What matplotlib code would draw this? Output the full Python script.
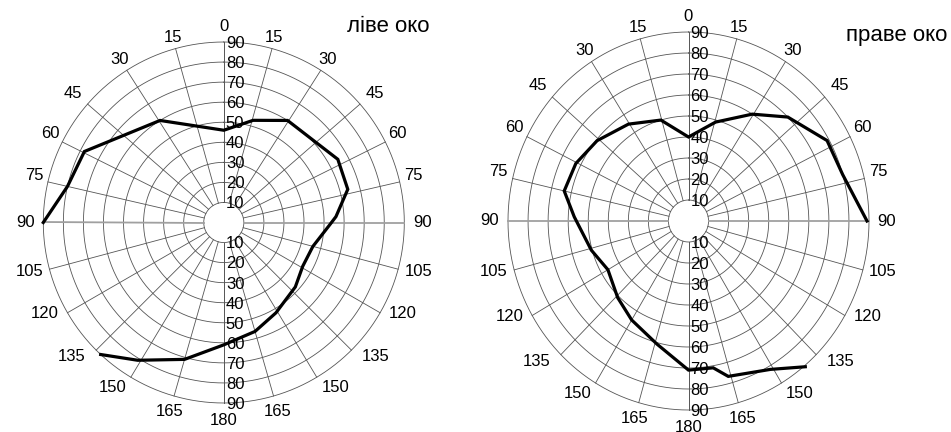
import numpy as np
import matplotlib
matplotlib.use("Agg")
import matplotlib.pyplot as plt

plt.rcParams['font.family'] = ['Liberation Sans', 'DejaVu Sans']

# field of view boundaries, angle clockwise from top (deg) and eccentricity (deg)
left_theta = [270, 283, 297, 328, 360, 16, 32, 61, 75, 87, 91, 105, 119, 132, 150, 164, 180, 196, 212, 223]
left_r = [90, 80, 78, 60, 46, 53, 60, 65, 64, 56, 53, 46, 45, 48, 52, 56.5, 61, 71, 81, 90]

right_theta = [90, 74, 61, 45, 32, 16, 0, -16, -33, -50, -64, -77, -88, -106, -120, -136, -149, -165, -180, -190, -195, -210, -220]
right_r = [89, 80, 79, 70, 60, 49, 40, 50, 55, 59.5, 62.5, 63.6, 57, 50.4, 46.4, 50.8, 55, 60.7, 71, 71, 76.6, 81.6, 90.6]

ring_values = [10, 20, 30, 40, 50, 60, 70, 80, 90]
meridian_labels = ['0', '15', '30', '45', '60', '75', '90', '105', '120', '135', '150', '165', '180']

# where the meridians and their labels sit on the printed form (one half, mirrored)
meridian_pos = [0, 15.5, 32.5, 49, 63.5, 77, 90, 105, 120, 135, 149, 164, 180]
label_pos = [0, 15.3, 32.5, 49.5, 62.8, 76, 90, 104, 117, 131.5, 146, 164, 180]
label_rad = [97.5, 95.5, 96.5, 99, 97.5, 97.5, 99, 100, 100, 101, 99.3, 97.8, 98.5]

GRID = '#555555'
FS = 12


def draw_chart(ax, theta, r):
    ax.set_theta_zero_location('N')
    ax.set_theta_direction(-1)
    ax.set_ylim(0, 90)
    ax.axis('off')
    ax.set_aspect('auto')

    t = np.linspace(0, 2 * np.pi, 361)
    for rv in ring_values:
        ax.plot(t, np.full_like(t, rv), color=GRID, lw=0.6, clip_on=False)

    for side in (1, -1):
        for m in meridian_pos:
            a = np.radians(side * m)
            if m == 90:
                ax.plot([a, a], [10, 90], color='#a0a0a0', lw=1.3, clip_on=False)
            else:
                ax.plot([a, a], [10, 90], color=GRID, lw=0.6, clip_on=False)
        for lab, lp, lr in zip(meridian_labels, label_pos, label_rad):
            if side == -1 and lp in (0, 180):
                continue
            ax.text(np.radians(side * lp), lr, lab, ha='center', va='center',
                    fontsize=FS, clip_on=False)

    for rv in ring_values:
        ax.annotate(str(rv), xy=(0, rv), xytext=(1.5, -1), textcoords='offset points',
                    ha='left', va='center', fontsize=FS, annotation_clip=False)
        ax.annotate(str(rv), xy=(np.pi, rv), xytext=(1.5, -1), textcoords='offset points',
                    ha='left', va='center', fontsize=FS, annotation_clip=False)

    ax.plot(np.radians(theta), r, color='black', lw=2.3, clip_on=False,
            solid_joinstyle='miter', zorder=5)


fig = plt.figure(figsize=(9.51, 4.32), dpi=100)

ax1 = fig.add_axes([43.3 / 951, 29 / 432, 361 / 951, 361 / 432], projection='polar')
draw_chart(ax1, left_theta, left_r)

ax2 = fig.add_axes([508 / 951, 22 / 432, 361 / 951, 378 / 432], projection='polar')
draw_chart(ax2, right_theta, right_r)

fig.text(347 / 951, 1 - 27 / 432, 'ліве око', ha='left', va='center', fontsize=16)
fig.text(846 / 951, 1 - 35 / 432, 'праве око', ha='left', va='center', fontsize=16)

fig.savefig('out.png', dpi=100)
